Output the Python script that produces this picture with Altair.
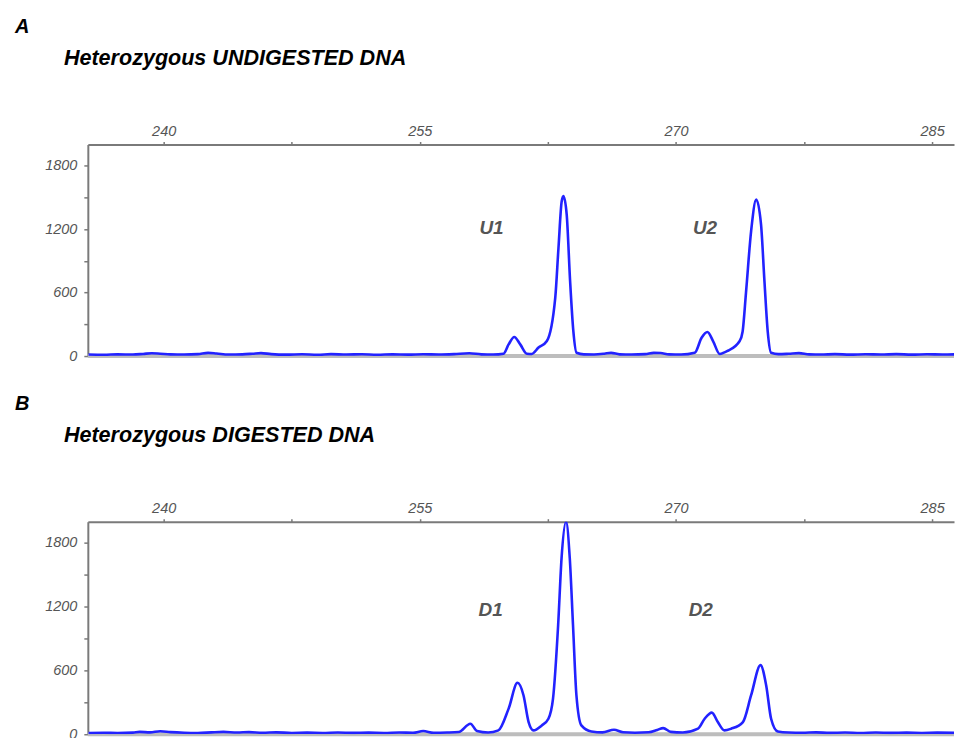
import altair as alt
import pandas as pd

# ---- data ----
a_bp = [235.6, 236.5, 237.3, 238.2, 238.8, 239.3, 239.8, 240.4, 241.2, 242.0,
        242.6, 243.1, 243.8, 244.6, 245.2, 245.7, 246.3, 247.2, 248.1, 249.0,
        249.8, 250.7, 251.6, 252.5, 253.4, 254.3, 255.2, 256.1, 257.0, 257.9,
        258.6, 259.3, 259.9, 260.2, 260.53, 260.88, 261.27, 261.56, 261.95, 262.44,
        262.93, 263.12, 263.31, 263.41, 263.60, 263.80, 263.99, 264.18, 264.6, 265.2,
        265.8, 266.2, 266.7, 267.4, 268.2, 268.7, 269.1, 269.6, 270.3, 271.1,
        271.5, 271.84, 272.17, 272.56, 273.04, 273.73, 273.9, 274.1, 274.4, 274.7,
        274.98, 275.18, 275.37, 275.57, 276.0, 276.6, 277.2, 277.8, 278.5, 279.3,
        280.2, 281.1, 282.0, 282.9, 283.8, 284.7, 285.6, 286.3]
a_rfu = [14, 12, 16, 14, 20, 26, 22, 16, 14, 18,
         30, 24, 14, 16, 22, 28, 18, 13, 17, 12,
         18, 14, 17, 12, 16, 13, 17, 14, 18, 26,
         16, 14, 22, 110, 180, 110, 22, 20, 80, 142,
         551, 1024, 1465, 1512, 1339, 709, 236, 31, 16, 15,
         22, 30, 16, 14, 18, 30, 28, 16, 14, 31,
         173, 227, 142, 20, 50, 142, 230, 600, 1181, 1480,
         1244, 709, 236, 31, 18, 22, 28, 16, 14, 18,
         13, 17, 14, 18, 13, 17, 14, 16]

b_bp = [235.6, 236.5, 237.3, 238.2, 238.6, 239.2, 239.8, 240.4, 241.2, 242.0,
        242.8, 243.5, 244.3, 245.0, 245.8, 246.6, 247.5, 248.4, 249.3, 250.2,
        251.1, 252.0, 252.9, 253.8, 254.6, 255.2, 255.8, 256.6, 257.28, 257.96,
        258.35, 259.0, 259.6, 260.2, 260.72, 261.07, 261.37, 261.66, 262.14, 262.53,
        262.8, 263.1, 263.3, 263.56, 263.78, 263.97, 264.17, 264.46, 265.05, 265.7,
        266.37, 266.9, 267.6, 268.4, 268.9, 269.25, 269.7, 270.4, 271.29, 271.68,
        272.1, 272.45, 272.84, 273.23, 273.92, 274.4, 274.95, 275.28, 275.57, 275.96,
        276.6, 277.4, 278.2, 279.0, 279.9, 280.8, 281.7, 282.6, 283.5, 284.4,
        285.3, 286.3]
b_rfu = [12, 14, 11, 15, 22, 18, 28, 20, 14, 12,
         18, 22, 16, 20, 14, 18, 12, 15, 12, 16,
         13, 15, 12, 16, 14, 30, 14, 16, 21, 99,
         30, 16, 36, 241, 484, 367, 115, 36, 83, 146,
         335, 1028, 1658, 2000, 1658, 1028, 367, 83, 26, 18,
         42, 18, 14, 18, 40, 58, 22, 16, 52, 146,
         203, 115, 36, 52, 115, 367, 650, 461, 146, 26,
         16, 14, 18, 13, 16, 12, 16, 13, 15, 12,
         15, 13]

x_ticks = [240, 247.5, 255, 262.5, 270, 277.5, 285]
y_ticks = [0, 300, 600, 900, 1200, 1500, 1800]

a_labels = ["U1", "U2"]
a_lab_bp = [259.2, 271.7]
a_lab_rfu = [1210, 1210]
b_labels = ["D1", "D2"]
b_lab_bp = [259.15, 271.45]
b_lab_rfu = [1167, 1167]

FONT = "Liberation Sans"
x_domain = [235.56, 286.28]
y_domain = [0, 2000]

x_axis = alt.Axis(orient="top", values=x_ticks, title=None, tickSize=3, labelPadding=3,
                  labelExpr="datum.value % 15 == 0 ? format(datum.value, 'd') : ''")
y_axis = alt.Axis(values=y_ticks, title=None, tickSize=4, labelPadding=7,
                  labelExpr="datum.value % 600 == 0 ? format(datum.value, 'd') : ''")
xs = alt.Scale(domain=x_domain, nice=False, zero=False)
ys = alt.Scale(domain=y_domain, nice=False)


def panel(bp, rfu, letter, title, labels, lab_bp, lab_rfu, h):
    df = pd.DataFrame({"bp": bp, "rfu": rfu})
    base = alt.Chart(pd.DataFrame({"rfu": [0]})).mark_rule(
        color="#bdbdbd", strokeWidth=4).encode(y=alt.Y("rfu:Q", scale=ys, axis=y_axis))
    line = alt.Chart(df).mark_line(color="#2222ff", strokeWidth=2.6,
                                   interpolate="monotone", clip=True).encode(
        x=alt.X("bp:Q", scale=xs, axis=x_axis),
        y=alt.Y("rfu:Q", scale=ys, axis=y_axis))
    lab = alt.Chart(pd.DataFrame({"bp": lab_bp, "rfu": lab_rfu, "t": labels})).mark_text(
        font=FONT, fontSize=19, fontWeight="bold", fontStyle="italic", color="#555555",
        align="center", baseline="middle").encode(
        x=alt.X("bp:Q", scale=xs, axis=x_axis),
        y=alt.Y("rfu:Q", scale=ys, axis=y_axis), text="t:N")
    let = alt.Chart(pd.DataFrame({"t": [letter]})).mark_text(
        font=FONT, fontSize=20, fontWeight="bold", fontStyle="italic", color="#000000",
        align="left", baseline="middle").encode(
        x=alt.value(-73), y=alt.value(-118), text="t:N")
    ttl = alt.Chart(pd.DataFrame({"t": [title]})).mark_text(
        font=FONT, fontSize=21.6, fontWeight="bold", fontStyle="italic", color="#000000",
        align="left", baseline="middle").encode(
        x=alt.value(-24), y=alt.value(-86), text="t:N")
    return alt.layer(base, line, lab, let, ttl).properties(width=868, height=h)


top = panel(a_bp, a_rfu, "A", "Heterozygous UNDIGESTED DNA", a_labels, a_lab_bp, a_lab_rfu, 212)
bottom = panel(b_bp, b_rfu, "B", "Heterozygous DIGESTED DNA", b_labels, b_lab_bp, b_lab_rfu, 213)

chart = alt.vconcat(top, bottom, spacing=31).properties(
    padding={"left": 7, "top": 8, "right": 0, "bottom": 0}
).configure_view(stroke=None).configure_axis(
    grid=False, domainColor="#7a7a7a", domainWidth=2, tickColor="#7a7a7a", tickWidth=1.5,
    labelFont=FONT, labelFontStyle="italic", labelFontSize=14.5, labelColor="#555555"
)

chart.save("out.html", embed_options={"renderer": "svg", "actions": False})
